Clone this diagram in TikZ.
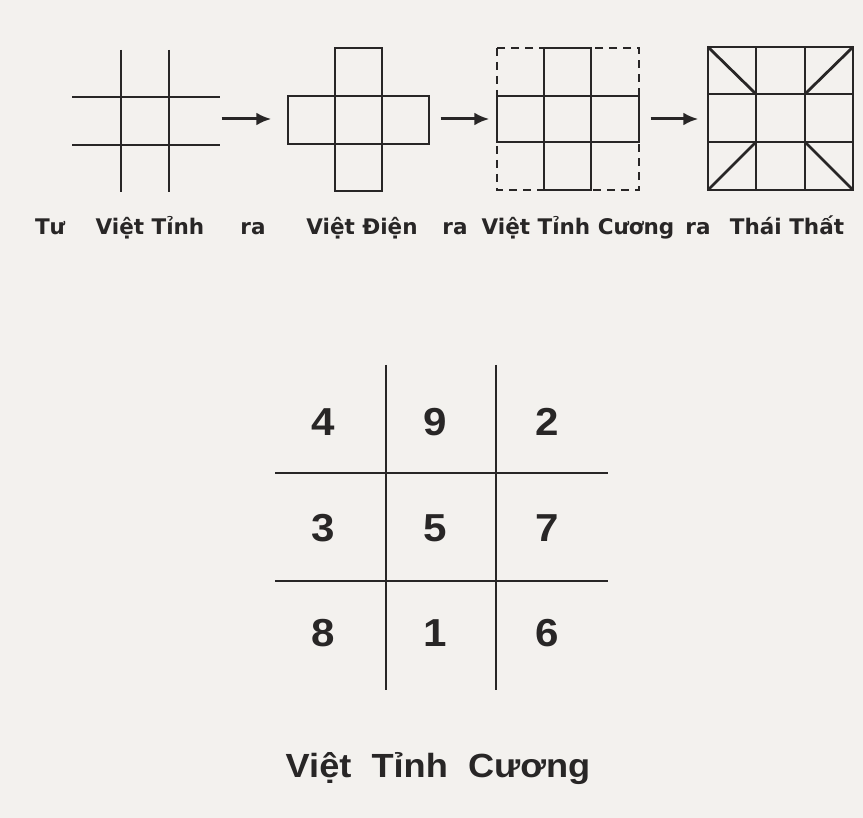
\documentclass[tikz,border=0pt]{standalone}
\usepackage{fontspec}
\setmainfont{Liberation Sans}
\newfontfamily\labelfont{DejaVu Sans}
\newfontfamily\capfont[FakeStretch=1.08]{Liberation Sans}
\usetikzlibrary{arrows.meta, positioning}
\definecolor{paper}{RGB}{243,241,238}
\definecolor{ink}{RGB}{40,38,38}

\begin{document}
\begin{tikzpicture}[x=1pt, y=-1pt,
ln/.style={line width=2.8pt, draw=ink},
dashbox/.style={ln, dash pattern=on 8pt off 6pt},
gridline/.style={line width=2.3pt, draw=ink},
arrow/.style={-{Latex[length=15pt,width=13pt]}, line width=3pt, draw=ink},
fig/.style={minimum width=143pt, minimum height=143pt, inner sep=0pt, draw=none},
lbl/.style={anchor=base, inner sep=0pt, text=ink, font=\labelfont\bfseries\fontsize{21.5}{25}\selectfont},
num/.style={text=ink, font=\capfont\bfseries\fontsize{39}{44}\selectfont},
caption/.style={anchor=base, inner sep=0pt, text=ink, font=\capfont\bfseries\fontsize{33.5}{38}\selectfont}
]
\fill[paper] (0,0) rectangle (863,818);

\node[fig] (fig1) at (146,119) {};
\node[fig] (fig2) at (358,119) {};
\node[fig] (fig3) at (568,119) {};
\node[fig] (fig4) at (780,119) {};

\draw[ln] (121,50) -- (121,192) (169,50) -- (169,192);
\draw[ln] (72,97) -- (220,97) (72,145) -- (220,145);

\draw[ln] (335,48) rectangle (382,191);
\draw[ln] (288,96) rectangle (429,144);

\draw[dashbox] (497,48) rectangle (639,190);
\draw[ln] (544,48) rectangle (591,190);
\draw[ln] (497,96) rectangle (639,142);

\draw[ln] (708,47) rectangle (853,190);
\draw[ln] (756,47) -- (756,190) (805,47) -- (805,190);
\draw[ln] (708,94) -- (853,94) (708,142) -- (853,142);
\draw[ln] (708,47) -- (756,94) (853,47) -- (805,94);
\draw[ln] (708,190) -- (756,142) (853,190) -- (805,142);

\draw[arrow] ([xshift=4pt]fig1.east) -- ([xshift=-15pt]fig2.west);
\draw[arrow] ([xshift=11pt]fig2.east) -- ([xshift=-7pt]fig3.west);
\draw[arrow] ([xshift=11pt]fig3.east) -- ([xshift=-10pt]fig4.west);

\node[lbl] (tu) at (50,235) {Tư};
\node[lbl] (tuvt) at (150,235) {Việt Tỉnh};
\node[lbl] (ra1) at (253,235) {ra};
\node[lbl] (vd) at (362,235) {Việt Điện};
\node[lbl] (ra2) at (455,235) {ra};
\node[lbl] (vtc) at (578,235) {Việt Tỉnh Cương};
\node[lbl] (ra3) at (698,235) {ra};
\node[lbl] (tt) at (787,235) {Thái Thất};

\draw[gridline] (386,365) -- (386,690) (496,365) -- (496,690);
\draw[gridline] (275,473) -- (608,473) (275,581) -- (608,581);

\foreach \v/\x/\y in {4/323/422, 9/435/422, 2/547/422, 3/323/528, 5/435/528, 7/547/528, 8/323/633, 1/435/633, 6/547/633}
  \node[num] (n\v) at (\x,\y) {\v};

\node[caption] (title) at (438,777) {Việt~~Tỉnh~~Cương};
\end{tikzpicture}
\end{document}
